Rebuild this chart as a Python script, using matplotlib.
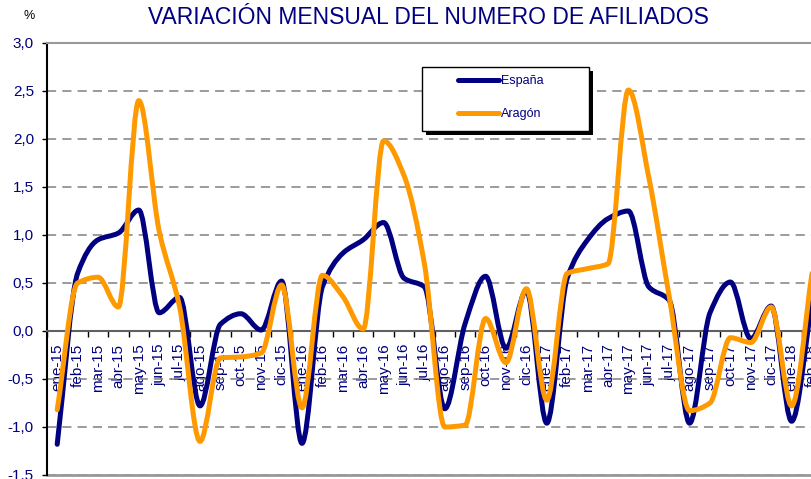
import numpy as np
import matplotlib
matplotlib.use("Agg")
import matplotlib.pyplot as plt
from matplotlib.path import Path
from matplotlib.patches import PathPatch, Rectangle
from matplotlib.lines import Line2D

plt.rcParams['font.family'] = ['Liberation Sans', 'DejaVu Sans']

meses = ['ene-15', 'feb-15', 'mar-15', 'abr-15', 'may-15', 'jun-15',
         'jul-15', 'ago-15', 'sep-15', 'oct-15', 'nov-15', 'dic-15',
         'ene-16', 'feb-16', 'mar-16', 'abr-16', 'may-16', 'jun-16',
         'jul-16', 'ago-16', 'sep-16', 'oct-16', 'nov-16', 'dic-16',
         'ene-17', 'feb-17', 'mar-17', 'abr-17', 'may-17', 'jun-17',
         'jul-17', 'ago-17', 'sep-17', 'oct-17', 'nov-17', 'dic-17',
         'ene-18', 'feb-18']

espana = [-1.18, 0.60, 0.95, 1.02, 1.26, 0.19, 0.35, -0.78, 0.07, 0.18, 0.01, 0.52,
          -1.17, 0.46, 0.81, 0.95, 1.13, 0.55, 0.46, -0.81, 0.08, 0.57, -0.18, 0.42,
          -0.96, 0.55, 0.95, 1.17, 1.25, 0.46, 0.32, -0.96, 0.19, 0.51, -0.08, 0.26,
          -0.94, 0.30]

aragon = [-0.82, 0.50, 0.56, 0.25, 2.40, 1.04, 0.25, -1.15, -0.28, -0.27, -0.23, 0.48,
          -0.80, 0.58, 0.36, 0.02, 1.98, 1.62, 0.70, -1.00, -0.98, 0.13, -0.33, 0.44,
          -0.72, 0.60, 0.65, 0.70, 2.51, 1.60, 0.36, -0.83, -0.75, -0.07, -0.12, 0.25,
          -0.78, 0.60]

AZUL = '#000080'
NARANJA = '#FF9900'


def curva_suave(x, y):
    # linea suavizada: hermite cubica monotona (sin rebasar picos) como bezier
    y = np.asarray(y, float)
    d = np.diff(y)
    m = np.zeros(len(y))
    m[0], m[-1] = d[0], d[-1]
    for k in range(1, len(y) - 1):
        if d[k - 1] * d[k] > 0:
            m[k] = 2 / (1 / d[k - 1] + 1 / d[k])
    verts = [(x[0], y[0])]
    codes = [Path.MOVETO]
    for i in range(len(y) - 1):
        h = (x[i + 1] - x[i]) / 3
        verts += [(x[i] + h, y[i] + m[i] * h),
                  (x[i + 1] - h, y[i + 1] - m[i + 1] * h),
                  (x[i + 1], y[i + 1])]
        codes += [Path.CURVE4] * 3
    return Path(verts, codes)


fig = plt.figure(figsize=(8.11, 4.79), dpi=100)
ax = fig.add_axes([47 / 811, 4 / 479, 775.2 / 811, 432 / 479])

x = np.arange(len(meses))
for serie, color in ((espana, AZUL), (aragon, NARANJA)):
    ax.add_patch(PathPatch(curva_suave(x, serie), fill=False, edgecolor=color,
                           lw=3.6, capstyle='round', joinstyle='round', zorder=4))

ax.set_xlim(-0.5, 37.5)
ax.set_ylim(-1.5, 3.0)

# eje y
ax.set_yticks(np.arange(-1.5, 3.01, 0.5))
ax.set_yticklabels([f'{v:.1f}'.replace('.', ',') for v in np.arange(-1.5, 3.01, 0.5)])
ax.tick_params(axis='y', direction='out', length=3.6, width=1, color='black',
               labelsize=11, labelcolor=AZUL, pad=5.8)
ax.grid(axis='y', color='#808080', linestyle=(0, (6, 4)), lw=1.1)
ax.set_axisbelow(True)

# eje x en el cero, etiquetas entre marcas
ax.spines['bottom'].set_position(('data', 0))
ax.spines['bottom'].set_color('#606060')
ax.spines['bottom'].set_linewidth(1.5)
ax.spines['top'].set_color('#999999')
ax.spines['top'].set_linewidth(1.5)
ax.spines['right'].set_visible(False)
ax.spines['left'].set_linewidth(1.5)
ax.axhline(-1.5, color='#999999', lw=2, clip_on=False)

ax.set_xticks(np.arange(-0.5, 38, 1))
ax.set_xticklabels([])
ax.set_xticks(x, minor=True)
ax.set_xticklabels(meses, minor=True, rotation=90)
ax.tick_params(axis='x', which='major', direction='out', length=4.3, width=1, color='black')
ax.tick_params(axis='x', which='minor', length=0, pad=9, labelsize=11, labelcolor=AZUL)

fig.text(428 / 811, 1 - 17 / 479, 'VARIACIÓN MENSUAL DEL NUMERO DE AFILIADOS',
         ha='center', va='center', fontsize=16.5, color=AZUL)
fig.text(29 / 811, 1 - 16 / 479, '%', ha='center', va='center', fontsize=9)

# leyenda con sombra
fig.patches.append(Rectangle((426 / 811, 1 - 135 / 479), 167 / 811, 64 / 479,
                             transform=fig.transFigure, facecolor='black', edgecolor='none'))
fig.patches.append(Rectangle((422 / 811, 1 - 131 / 479), 167 / 811, 64 / 479,
                             transform=fig.transFigure, facecolor='white',
                             edgecolor='black', lw=1))
for nombre, color, yy in (('España', AZUL, 80), ('Aragón', NARANJA, 113)):
    fig.lines.append(Line2D([458 / 811, 499 / 811], [1 - yy / 479, 1 - yy / 479],
                            transform=fig.transFigure, color=color, lw=3.6,
                            solid_capstyle='round'))
    fig.text(501 / 811, 1 - (yy + 1) / 479, nombre, ha='left', va='center',
             fontsize=9, color=AZUL)

fig.savefig('out.png', dpi=100)
